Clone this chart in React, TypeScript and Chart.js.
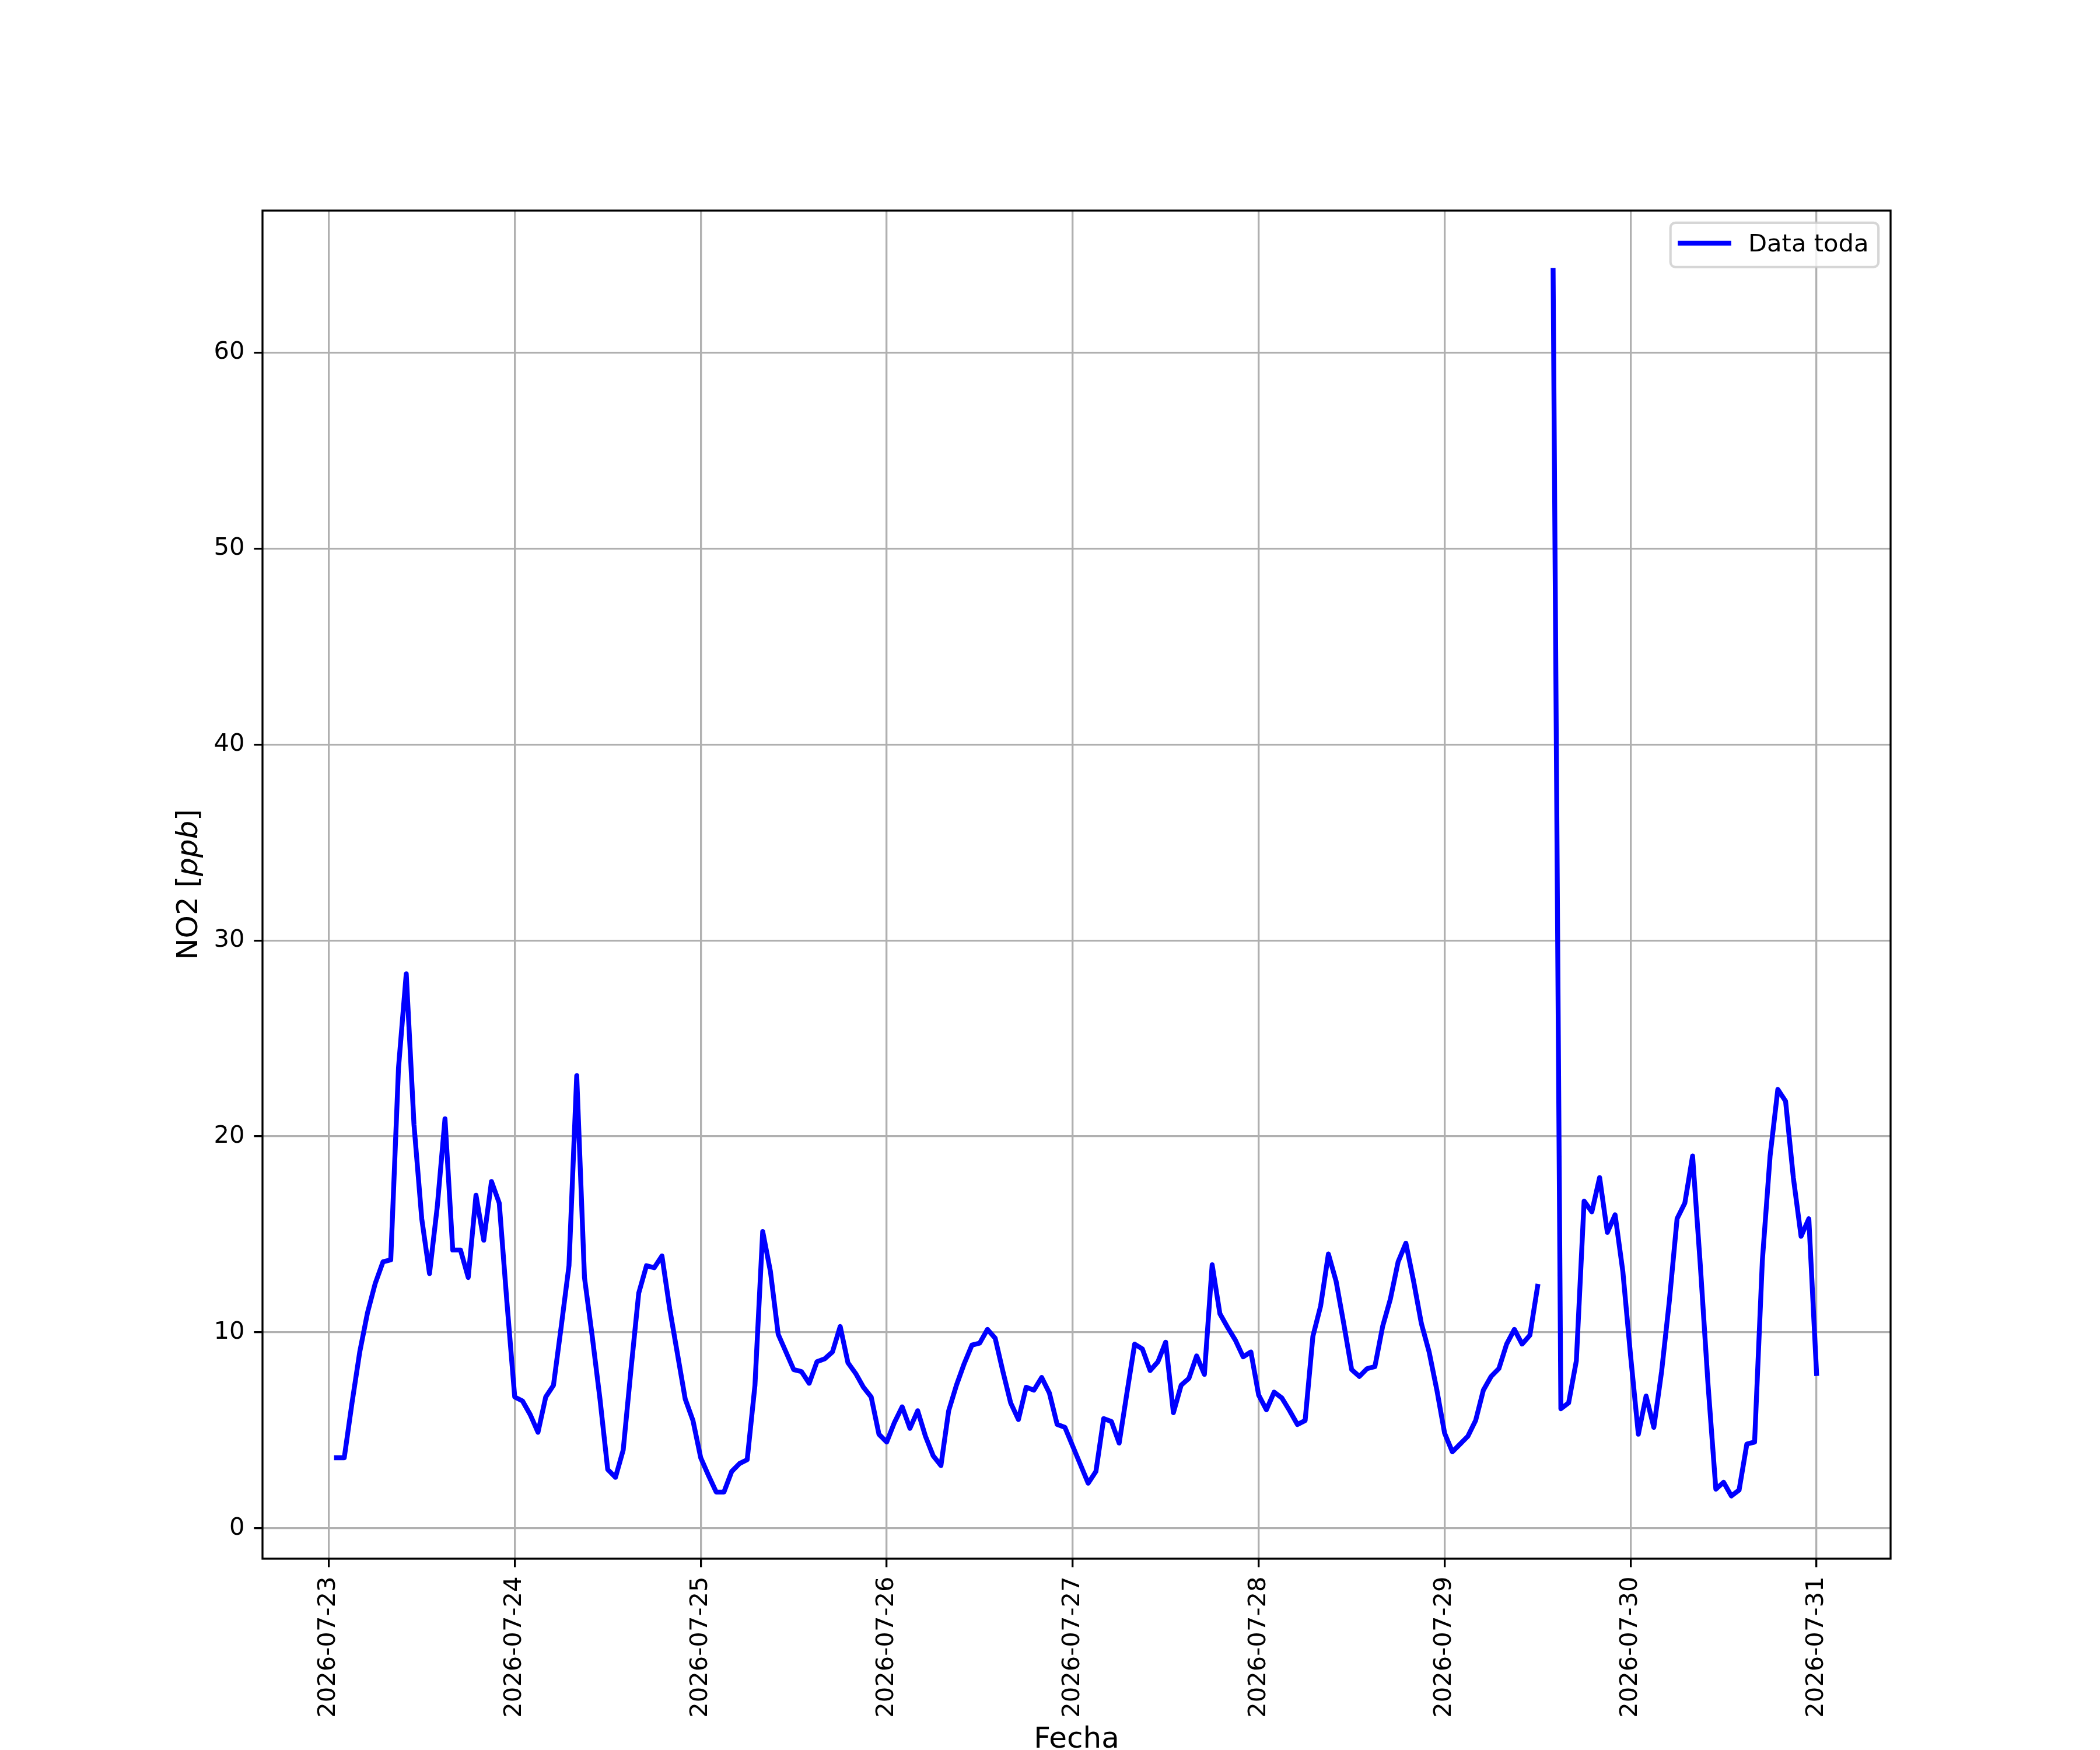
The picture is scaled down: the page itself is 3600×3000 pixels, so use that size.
import React, { useEffect, useRef } from 'react';
import { Chart, registerables } from 'chart.js';

Chart.register(...registerables);

// NO2 hourly readings, first value at 2026-07-23 01:00, one per hour (null = missing hour)
const no2: (number | null)[] = [
  // 07-23
  3.6, 3.6, 6.4, 9.0, 11.0, 12.5, 13.6, 13.7, 23.5, 28.3, 20.6, 15.8,
  13.0, 16.4, 20.9, 14.2, 14.2, 12.8, 17.0, 14.7, 17.7, 16.6, 11.5, 6.7,
  // 07-24
  6.5, 5.8, 4.9, 6.7, 7.3, 10.3, 13.4, 23.1, 12.8, 9.8, 6.6, 3.0,
  2.6, 4.0, 8.1, 12.0, 13.4, 13.3, 13.9, 11.2, 8.9, 6.6, 5.5, 3.6,
  // 07-25
  2.7, 1.85, 1.85, 2.9, 3.3, 3.5, 7.3, 15.15, 13.1, 9.9, 9.0, 8.1,
  8.0, 7.4, 8.5, 8.65, 9.0, 10.3, 8.45, 7.9, 7.2, 6.7, 4.8, 4.4,
  // 07-26
  5.4, 6.2, 5.1, 6.0, 4.7, 3.7, 3.2, 6.0, 7.3, 8.4, 9.35, 9.45,
  10.15, 9.7, 8.0, 6.4, 5.55, 7.2, 7.05, 7.7, 6.9, 5.3, 5.15, 4.2,
  // 07-27
  3.25, 2.3, 2.9, 5.6, 5.45, 4.35, 6.9, 9.4, 9.15, 8.05, 8.5, 9.5,
  5.9, 7.3, 7.65, 8.8, 7.85, 13.45, 10.95, 10.25, 9.6, 8.75, 9.0, 6.8,
  // 07-28
  6.05, 6.95, 6.65, 6.0, 5.3, 5.5, 9.8, 11.35, 14.0, 12.6, 10.4, 8.1,
  7.75, 8.15, 8.25, 10.3, 11.7, 13.6, 14.55, 12.6, 10.45, 9.0, 7.05, 4.85,
  // 07-29
  3.9, 4.3, 4.7, 5.5, 7.05, 7.75, 8.15, 9.4, 10.15, 9.4, 9.85, 12.35,
  null, 64.2, 6.1, 6.4, 8.55, 16.7, 16.15, 17.9, 15.1, 16.0, 13.1, 8.8,
  // 07-30
  4.8, 6.75, 5.15, 8.0, 11.6, 15.8, 16.6, 19.0, 13.4, 7.3, 2.0, 2.35,
  1.65, 1.95, 4.3, 4.4, 13.65, 19.0, 22.4, 21.8, 17.9, 14.9, 15.8, 7.9,
];
const firstHour = 1; // hours after 2026-07-23 00:00

const dateLabels = [
  '2026-07-23', '2026-07-24', '2026-07-25', '2026-07-26', '2026-07-27',
  '2026-07-28', '2026-07-29', '2026-07-30', '2026-07-31',
];
const dateTickHours = [0, 24, 48, 72, 96, 120, 144, 168, 192];
const yTickValues = [0, 10, 20, 30, 40, 50, 60];

const seriesLabel = 'Data toda';
const xTitle = 'Fecha';

const PT = 300 / 72; // matplotlib points -> px at 300 dpi
const FONT = '"DejaVu Sans"';

const overlay = {
  id: 'overlay',
  afterDraw(chart: any) {
    const ctx: CanvasRenderingContext2D = chart.ctx;
    const a = chart.chartArea;
    ctx.save();

    // spines
    ctx.strokeStyle = '#000';
    ctx.lineWidth = 0.8 * PT;
    ctx.strokeRect(a.left, a.top, a.right - a.left, a.bottom - a.top);

    // legend, upper right inside the axes
    const fs = 10 * PT;
    const ds = chart.data.datasets[0];
    ctx.font = `${fs}px ${FONT}`;
    const tw = ctx.measureText(ds.label).width;
    const pad = 0.4 * fs;
    const w = pad + 2 * fs + 0.8 * fs + tw + pad;
    const h = 76;
    const bx = a.right - 0.5 * fs - w;
    const by = a.top + 0.5 * fs;
    ctx.beginPath();
    ctx.roundRect(bx, by, w, h, 0.2 * fs);
    ctx.fillStyle = 'rgba(255,255,255,0.8)';
    ctx.fill();
    ctx.strokeStyle = 'rgba(204,204,204,0.8)';
    ctx.lineWidth = 1 * PT;
    ctx.stroke();
    ctx.beginPath();
    ctx.moveTo(bx + pad, by + h / 2 - 3);
    ctx.lineTo(bx + pad + 2 * fs, by + h / 2 - 3);
    ctx.strokeStyle = ds.borderColor;
    ctx.lineWidth = ds.borderWidth;
    ctx.lineCap = 'square';
    ctx.stroke();
    ctx.fillStyle = '#000';
    ctx.textBaseline = 'alphabetic';
    ctx.textAlign = 'left';
    ctx.fillText(ds.label, bx + pad + 2.8 * fs, by + 49.5);

    // axis titles
    const ls = 12 * PT;
    ctx.textAlign = 'center';
    ctx.font = `${ls}px ${FONT}`;
    ctx.fillText(xTitle, (a.left + a.right) / 2, 2996);

    const parts = [
      { t: 'NO2 [', f: `${ls}px ${FONT}` },
      { t: 'ppb', f: `italic ${ls}px ${FONT}` },
      { t: ']', f: `${ls}px ${FONT}` },
    ];
    let total = 0;
    parts.forEach((p) => {
      ctx.font = p.f;
      total += ctx.measureText(p.t).width;
    });
    ctx.translate(338, (a.top + a.bottom) / 2);
    ctx.rotate(-Math.PI / 2);
    ctx.textAlign = 'left';
    let x = -total / 2;
    parts.forEach((p) => {
      ctx.font = p.f;
      ctx.fillText(p.t, x, 0);
      x += ctx.measureText(p.t).width;
    });
    ctx.restore();
  },
};

export default function App() {
  const canvasRef = useRef<HTMLCanvasElement>(null);
  const chartRef = useRef<Chart | null>(null);

  useEffect(() => {
    if (!canvasRef.current) return;
    if (chartRef.current) chartRef.current.destroy();

    Chart.defaults.font.family = FONT;
    Chart.defaults.color = '#000';

    const grid = {
      color: '#b0b0b0',
      lineWidth: 0.8 * PT,
      tickColor: '#000',
      tickWidth: 0.8 * PT,
      tickLength: 3.5 * PT,
    };

    chartRef.current = new Chart(canvasRef.current, {
      type: 'line',
      data: {
        datasets: [
          {
            label: seriesLabel,
            data: no2.map((v, i) => ({ x: firstHour + i, y: v })) as any,
            borderColor: '#0000ff',
            borderWidth: 2 * PT,
            borderCapStyle: 'square',
            borderJoinStyle: 'round',
            pointRadius: 0,
            tension: 0,
            spanGaps: false,
            fill: false,
          },
        ],
      },
      options: {
        animation: false,
        responsive: false,
        devicePixelRatio: 1,
        layout: { padding: { top: 361, right: 359, left: 0, bottom: 0 } },
        plugins: { legend: { display: false }, tooltip: { enabled: false } },
        scales: {
          x: {
            type: 'linear',
            min: -8.55,
            max: 201.55,
            grid,
            border: { display: false },
            afterBuildTicks: (s: any) => {
              s.ticks = dateTickHours.map((v) => ({ value: v }));
            },
            afterFit: (s: any) => {
              s.height = 328;
            },
            ticks: {
              autoSkip: false,
              minRotation: 90,
              maxRotation: 90,
              padding: 16,
              font: { size: 10 * PT },
              callback: (_v: any, i: number) => dateLabels[i],
            },
          },
          y: {
            type: 'linear',
            min: -1.55,
            max: 67.25,
            grid,
            border: { display: false },
            afterBuildTicks: (s: any) => {
              s.ticks = yTickValues.map((v) => ({ value: v }));
            },
            afterFit: (s: any) => {
              s.width = 450;
            },
            ticks: {
              padding: 16,
              font: { size: 10 * PT },
              callback: (v: any) => String(v),
            },
          },
        },
      },
      plugins: [overlay],
    });

    return () => chartRef.current?.destroy();
  }, []);

  return (
    <div style={{ position: 'absolute', left: 0, top: 0, width: 3600, height: 3000, background: '#fff' }}>
      <canvas ref={canvasRef} width={3600} height={3000}></canvas>
    </div>
  );
}
